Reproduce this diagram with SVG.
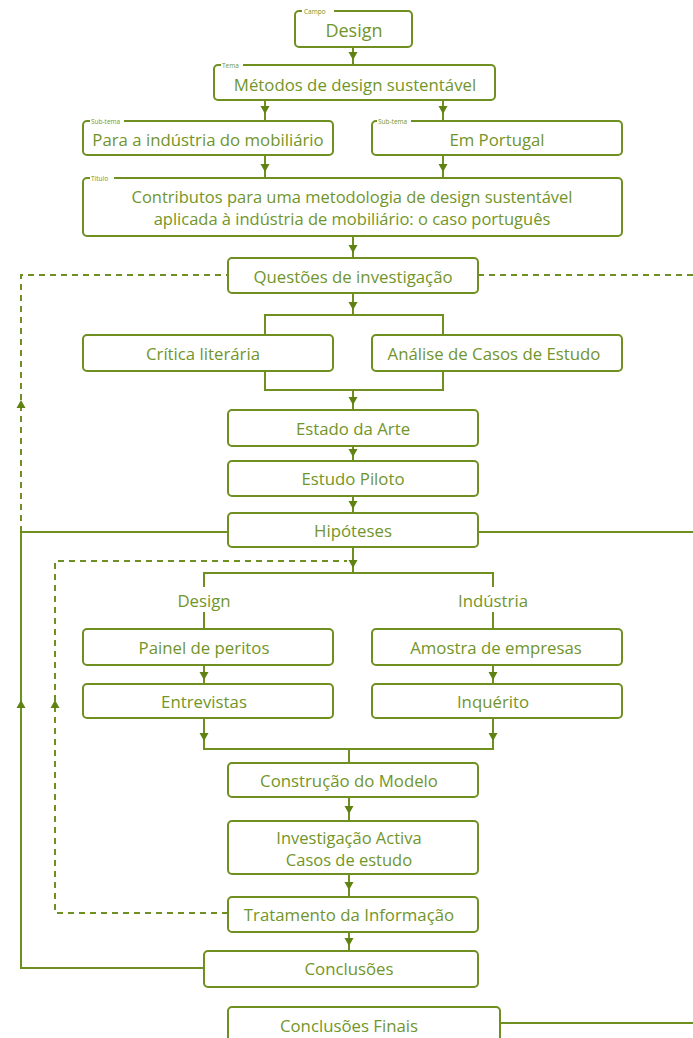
<svg xmlns="http://www.w3.org/2000/svg" width="693" height="1038" viewBox="0 0 693 1038">
  <style>
    .box { fill: #ffffff; stroke: #6f9021; stroke-width: 2; }
    .ln { fill: none; stroke: #6f9021; stroke-width: 2; }
    .dash { fill: none; stroke: #6f9021; stroke-width: 2; stroke-dasharray: 6 5; }
    .t { font-family: "Open Sans", "Noto Sans", sans-serif; font-size: 16.8px; fill: #72952a; text-anchor: middle; dominant-baseline: central; }
    .two { font-size: 16.5px; }
    .big { font-size: 18px; }
    .tag { font-family: "Open Sans", "Noto Sans", sans-serif; font-size: 6.5px; fill: #72952a; dominant-baseline: central; }
    .tagbg { fill: #ffffff; }
    .ah { fill: #5f8212; }
  </style>
  <defs>
    <path id="down" d="M-4.5,-8 L4.5,-8 L0,0 Z"/>
    <path id="up" d="M-4.5,8 L4.5,8 L0,0 Z"/>
  </defs>
  <rect width="693" height="1038" fill="#ffffff"/>

  <g id="connectors">
    <!-- main spine -->
    <path class="ln" d="M353,47 V65"/>
    <path class="ln" d="M265,100 V121 M443,100 V121"/>
    <path class="ln" d="M265,155 V178 M443,155 V178"/>
    <path class="ln" d="M353,236 V258"/>
    <path class="ln" d="M353,293 V315"/>
    <!-- split / merge around literature and case studies -->
    <path class="ln" d="M265,335 V315 H443 V335"/>
    <path class="ln" d="M265,371 V390 H443 V371"/>
    <path class="ln" d="M353,390 V410"/>
    <path class="ln" d="M353,446 V461"/>
    <path class="ln" d="M353,496 V513"/>
    <path class="ln" d="M353,547 V573"/>
    <!-- design / industry branches -->
    <path class="ln" d="M204,629 V612 M204,587 V573 H493 V587 M493,612 V629"/>
    <path class="ln" d="M204,665 V684 M493,665 V684"/>
    <path class="ln" d="M204,718 V749 H493 V718"/>
    <path class="ln" d="M349,749 V763"/>
    <path class="ln" d="M349,797 V821"/>
    <path class="ln" d="M349,874 V897"/>
    <path class="ln" d="M349,932 V951"/>
    <!-- feedback loops -->
    <path class="ln" d="M204,968 H21 V532 H228"/>
    <path class="ln" d="M478,532 H693"/>
    <path class="dash" d="M21,532 V275 H228"/>
    <path class="dash" d="M478,275 H693"/>
    <path class="dash" d="M228,913 H55 V561 H347"/>
    <path class="ln" d="M500,1023 H693"/>
    <!-- arrowheads -->
    <g class="ah">
      <use href="#down" x="353" y="60"/>
      <use href="#down" x="265" y="114"/>
      <use href="#down" x="443" y="114"/>
      <use href="#down" x="265" y="172"/>
      <use href="#down" x="443" y="172"/>
      <use href="#down" x="353" y="253"/>
      <use href="#down" x="353" y="310"/>
      <use href="#down" x="353" y="405"/>
      <use href="#down" x="353" y="457"/>
      <use href="#down" x="353" y="509"/>
      <use href="#down" x="353" y="568"/>
      <use href="#down" x="204" y="680"/>
      <use href="#down" x="493" y="680"/>
      <use href="#down" x="204" y="741"/>
      <use href="#down" x="493" y="741"/>
      <use href="#down" x="349" y="814"/>
      <use href="#down" x="349" y="890"/>
      <use href="#down" x="349" y="946"/>
      <use href="#up" x="21" y="400"/>
      <use href="#up" x="21" y="700"/>
      <use href="#up" x="55" y="700"/>
    </g>
  </g>

  <g id="campo">
    <rect class="box" x="295" y="11" width="117" height="36" rx="4"/>
    <rect class="tagbg" x="302" y="8" width="32" height="6"/>
    <text class="tag" x="304" y="11">Campo</text>
    <text class="t big" x="354" y="30">Design</text>
  </g>

  <g id="tema">
    <rect class="box" x="214" y="65" width="281" height="35" rx="4"/>
    <rect class="tagbg" x="221" y="62" width="22" height="6"/>
    <text class="tag" x="222" y="65">Tema</text>
    <text class="t" x="355" y="84">Métodos de design sustentável</text>
  </g>

  <g id="subtema-mobiliario">
    <rect class="box" x="83" y="121" width="250" height="34" rx="4"/>
    <rect class="tagbg" x="90" y="118" width="34" height="6"/>
    <text class="tag" x="91" y="121">Sub-tema</text>
    <text class="t" x="208" y="139">Para a indústria do mobiliário</text>
  </g>

  <g id="subtema-portugal">
    <rect class="box" x="372" y="121" width="250" height="34" rx="4"/>
    <rect class="tagbg" x="377" y="118" width="34" height="6"/>
    <text class="tag" x="378" y="121">Sub-tema</text>
    <text class="t" x="497" y="139">Em Portugal</text>
  </g>

  <g id="titulo">
    <rect class="box" x="83" y="178" width="539" height="58" rx="4"/>
    <rect class="tagbg" x="90" y="175" width="24" height="6"/>
    <text class="tag" x="91" y="178">Título</text>
    <text class="t two"><tspan x="352" y="196">Contributos para uma metodologia de design sustentável</tspan><tspan x="352" y="218">aplicada à indústria de mobiliário: o caso português</tspan></text>
  </g>

  <g id="questoes">
    <rect class="box" x="228" y="258" width="250" height="35" rx="4"/>
    <text class="t" x="353" y="276">Questões de investigação</text>
  </g>

  <g id="critica">
    <rect class="box" x="83" y="335" width="250" height="36" rx="4"/>
    <text class="t" x="203" y="353">Crítica literária</text>
  </g>

  <g id="analise">
    <rect class="box" x="372" y="335" width="250" height="36" rx="4"/>
    <text class="t" x="494" y="353">Análise de Casos de Estudo</text>
  </g>

  <g id="estado-arte">
    <rect class="box" x="228" y="410" width="250" height="36" rx="4"/>
    <text class="t" x="353" y="428">Estado da Arte</text>
  </g>

  <g id="estudo-piloto">
    <rect class="box" x="228" y="461" width="250" height="35" rx="4"/>
    <text class="t" x="353" y="478">Estudo Piloto</text>
  </g>

  <g id="hipoteses">
    <rect class="box" x="228" y="513" width="250" height="34" rx="4"/>
    <text class="t" x="353" y="530">Hipóteses</text>
  </g>

  <g id="ramo-design">
    <text class="t" x="204" y="600">Design</text>
  </g>

  <g id="ramo-industria">
    <text class="t" x="493" y="600">Indústria</text>
  </g>

  <g id="painel">
    <rect class="box" x="83" y="629" width="250" height="36" rx="4"/>
    <text class="t" x="204" y="647">Painel de peritos</text>
  </g>

  <g id="amostra">
    <rect class="box" x="372" y="629" width="250" height="36" rx="4"/>
    <text class="t" x="496" y="647">Amostra de empresas</text>
  </g>

  <g id="entrevistas">
    <rect class="box" x="83" y="684" width="250" height="34" rx="4"/>
    <text class="t" x="204" y="701">Entrevistas</text>
  </g>

  <g id="inquerito">
    <rect class="box" x="372" y="684" width="250" height="34" rx="4"/>
    <text class="t" x="493" y="701">Inquérito</text>
  </g>

  <g id="construcao">
    <rect class="box" x="228" y="763" width="250" height="34" rx="4"/>
    <text class="t" x="349" y="780">Construção do Modelo</text>
  </g>

  <g id="investigacao">
    <rect class="box" x="228" y="821" width="250" height="53" rx="4"/>
    <text class="t two"><tspan x="349" y="837">Investigação Activa</tspan><tspan x="349" y="859">Casos de estudo</tspan></text>
  </g>

  <g id="tratamento">
    <rect class="box" x="228" y="897" width="250" height="35" rx="4"/>
    <text class="t" x="349" y="914">Tratamento da Informação</text>
  </g>

  <g id="conclusoes">
    <rect class="box" x="204" y="951" width="274" height="36" rx="4"/>
    <text class="t" x="349" y="968">Conclusões</text>
  </g>

  <g id="conclusoes-finais">
    <rect class="box" x="228" y="1007" width="272" height="40" rx="4"/>
    <text class="t" x="349" y="1025">Conclusões Finais</text>
  </g>
</svg>
